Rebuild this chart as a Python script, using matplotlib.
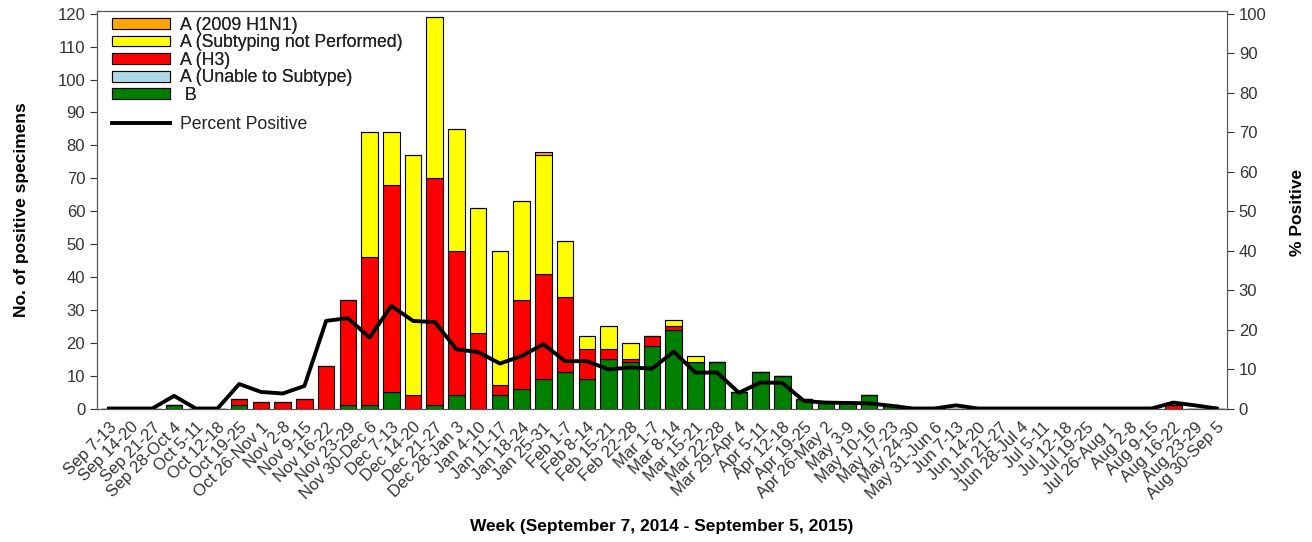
import matplotlib
matplotlib.use("Agg")
import matplotlib.pyplot as plt
from matplotlib.patches import Patch
from matplotlib.lines import Line2D
import numpy as np

plt.rcParams['font.family'] = ['Liberation Sans', 'DejaVu Sans']

weeks = ["Sep 7-13", "Sep 14-20", "Sep 21-27", "Sep 28-Oct 4", "Oct 5-11", "Oct 12-18",
         "Oct 19-25", "Oct 26-Nov 1", "Nov 2-8", "Nov 9-15", "Nov 16-22", "Nov 23-29",
         "Nov 30-Dec 6", "Dec 7-13", "Dec 14-20", "Dec 21-27", "Dec 28-Jan 3", "Jan 4-10",
         "Jan 11-17", "Jan 18-24", "Jan 25-31", "Feb 1-7", "Feb 8-14", "Feb 15-21",
         "Feb 22-28", "Mar 1-7", "Mar 8-14", "Mar 15-21", "Mar 22-28", "Mar 29-Apr 4",
         "Apr 5-11", "Apr 12-18", "Apr 19-25", "Apr 26-May 2", "May 3-9", "May 10-16",
         "May 17-23", "May 24-30", "May 31-Jun 6", "Jun 7-13", "Jun 14-20", "Jun 21-27",
         "Jun 28-Jul 4", "Jul 5-11", "Jul 12-18", "Jul 19-25", "Jul 26-Aug 1", "Aug 2-8",
         "Aug 9-15", "Aug 16-22", "Aug 23-29", "Aug 30-Sep 5"]

# stacked from the bottom: B, A unable, A H3, A not subtyped, A 2009 H1N1
flu_b = [0, 0, 0, 1, 0, 0, 1, 0, 0, 0, 0, 1, 1, 5, 0, 1, 4, 0, 4, 6, 9, 11, 9, 15, 14, 19,
         24, 14, 14, 5, 11, 10, 3, 2, 2, 4, 1, 0, 0, 0, 0, 0, 0, 0, 0, 0, 0, 0, 0, 0, 0, 0]
a_unable = [0] * 52
a_h3 = [0, 0, 0, 0, 0, 0, 2, 2, 2, 3, 13, 32, 45, 63, 4, 69, 44, 23, 3, 27, 32, 23, 9, 3,
        1, 3, 1, 0, 0, 0, 0, 0, 0, 0, 0, 0, 0, 0, 0, 0, 0, 0, 0, 0, 0, 0, 0, 0, 0, 1, 0, 0]
a_not_sub = [0, 0, 0, 0, 0, 0, 0, 0, 0, 0, 0, 0, 38, 16, 73, 49, 37, 38, 41, 30, 36, 17, 4,
             7, 5, 0, 2, 2, 0, 0, 0, 0, 0, 0, 0, 0, 0, 0, 0, 0, 0, 0, 0, 0, 0, 0, 0, 0, 0,
             0, 0, 0]
a_h1n1 = [0] * 20 + [1] + [0] * 31

pct_pos = [0, 0, 0, 3.2, 0, 0, 6.2, 4.2, 3.8, 5.7, 22.2, 22.9, 18.0, 26.0, 22.2, 21.9, 15.0,
           14.3, 11.4, 13.3, 16.3, 12.0, 12.0, 9.9, 10.4, 10.1, 14.4, 9.1, 9.1, 4.0, 6.6,
           6.5, 1.9, 1.5, 1.4, 1.3, 0.7, 0, 0, 0.8, 0, 0, 0, 0, 0, 0, 0, 0, 0, 1.5, 0.8, 0]

series = [("A (2009 H1N1)", a_h1n1, "#FFA500"),
          ("A (Subtyping not Performed)", a_not_sub, "#FFFF00"),
          ("A (H3)", a_h3, "#FF0000"),
          ("A (Unable to Subtype)", a_unable, "#ADD8E6"),
          (" B", flu_b, "#008000")]

fig = plt.figure(figsize=(13.12, 5.42), dpi=100)
ax = fig.add_axes([0.0739, 0.2463, 0.8613, 0.7325])
x = np.arange(len(weeks))

bottom = np.zeros(len(weeks))
for name, vals, col in series[::-1]:
    vals = np.array(vals, dtype=float)
    ax.bar(x, vals, width=0.76, bottom=bottom, color=col, edgecolor="black",
           linewidth=0.8, zorder=2)
    bottom += vals

ax.set_xlim(-0.55, 51.47)
ax.set_ylim(0, 120.7)
ax.set_yticks(range(0, 121, 10))
ax.set_xticks(x)
ax.set_xticklabels(weeks, rotation=45, ha="right", va="top", rotation_mode="anchor",
                   fontsize=12, color="#333333")
ax.tick_params(axis="x", length=0, pad=8)
ax.tick_params(axis="y", direction="out", length=5, labelsize=12, colors="#333333")
for s in ax.spines.values():
    s.set_color("#555555")

ax2 = ax.twinx()
ax2.plot(x, pct_pos, color="black", linewidth=2.8, zorder=3)
ax2.set_ylim(0, 100.6)
ax2.set_yticks(range(0, 101, 10))
ax2.tick_params(axis="y", direction="out", length=5, labelsize=12, colors="#333333")
for s in ax2.spines.values():
    s.set_color("#555555")

bar_handles = [Patch(facecolor=c, edgecolor="black", linewidth=0.8, label=n)
               for n, v, c in series]
leg1 = ax.legend(handles=bar_handles, loc="upper left", bbox_to_anchor=(0.0025, 1.018),
                 frameon=False, fontsize=12.7, handlelength=3.3, handleheight=0.58,
                 handletextpad=0.55, labelspacing=0.03, borderaxespad=0.3)
for t in leg1.get_texts():
    t.set_color("#222222")
ax.add_artist(leg1)
line_handle = [Line2D([0], [0], color="black", linewidth=2.8, label="Percent Positive")]
leg2 = ax2.legend(handles=line_handle, loc="upper left", bbox_to_anchor=(0.0025, 0.768),
                  frameon=False, fontsize=12.7, handlelength=3.3, handletextpad=0.55,
                  borderaxespad=0.3)
for t in leg2.get_texts():
    t.set_color("#222222")

fig.text(22 / 1312, 1 - 210 / 542, "No. of positive specimens", rotation=90,
         ha="center", va="center", fontsize=12.5, fontweight="bold")
fig.text(1298 / 1312, 1 - 212 / 542, "% Positive", rotation=90,
         ha="center", va="center", fontsize=12.5, fontweight="bold")
fig.text(662 / 1312, 1 - 526 / 542, "Week (September 7, 2014 - September 5, 2015)",
         ha="center", va="center", fontsize=12.5, fontweight="bold")

fig.savefig("out.png", dpi=100)
